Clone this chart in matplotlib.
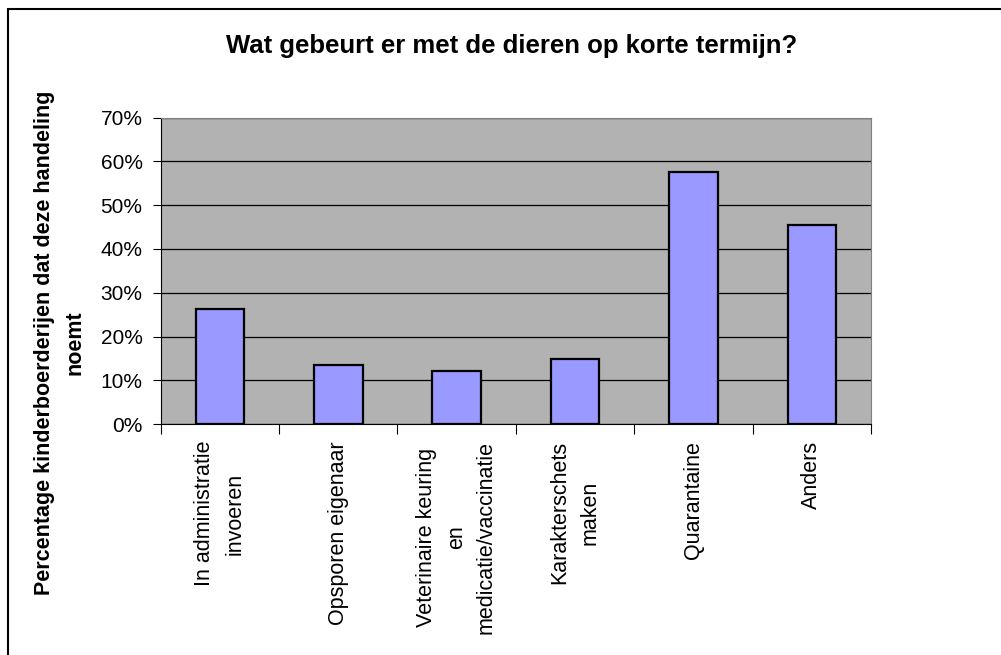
import matplotlib
matplotlib.use("Agg")
import matplotlib.pyplot as plt
import numpy as np
from matplotlib.patches import Rectangle

# data
categories = ["In administratie\ninvoeren", "Opsporen eigenaar",
              "Veterinaire keuring\nen\nmedicatie/vaccinatie",
              "Karakterschets\nmaken", "Quarantaine", "Anders"]
values = [0.264, 0.135, 0.121, 0.149, 0.576, 0.455]
yticks = [0.0, 0.1, 0.2, 0.3, 0.4, 0.5, 0.6, 0.7]
title = "Wat gebeurt er met de dieren op korte termijn?"
ylabel = "Percentage kinderboerderijen dat deze handeling\nnoemt"

plt.rcParams['font.family'] = ['Liberation Sans', 'DejaVu Sans']

fig = plt.figure(figsize=(10.01, 6.55), dpi=100)
fig.patch.set_facecolor("white")

# outer chart border (cut off right and bottom like the screenshot)
fig.patches.append(Rectangle((8 / 1001, -0.1), 1.2, 1 - 9 / 655 + 0.1,
                             transform=fig.transFigure, fill=False,
                             edgecolor="black", linewidth=1.5))

ax = fig.add_axes([160.7 / 1001, 1 - 424.3 / 655, (871 - 160.7) / 1001, (424.3 - 117.5) / 655])
ax.set_facecolor("#B2B2B2")

x = np.arange(len(categories))
ax.bar(x, values, width=0.41, color="#9999FF", edgecolor="black", linewidth=1.6, zorder=3)

ax.set_xlim(-0.5, len(categories) - 0.5)
ax.set_ylim(0, 0.7)
ax.set_yticks(yticks)
ax.set_yticklabels([f"{int(round(v * 100))}%" for v in yticks], fontsize=15)
ax.yaxis.grid(True, color="black", linewidth=0.9, zorder=1)
ax.set_axisbelow(True)

# category ticks on the boundaries, labels in the middle
ax.set_xticks(np.arange(len(categories) + 1) - 0.5)
ax.set_xticklabels([])
ax.set_xticks(x, minor=True)
ax.set_xticklabels(categories, minor=True, rotation=90, fontsize=15.5,
                   va="top", ha="center", linespacing=1.55)
ax.tick_params(axis="x", which="minor", length=0, pad=12)
ax.tick_params(axis="x", which="major", length=7, direction="out", color="black")
ax.tick_params(axis="y", length=6, direction="out", color="black", pad=7)

for side in ["top", "right"]:
    ax.spines[side].set_color("#808080")
for side in ["left", "bottom"]:
    ax.spines[side].set_color("black")

fig.text(512 / 1001, 1 - 46 / 655, title, ha="center", va="center",
         fontsize=18.5, fontweight="bold")
fig.text(60 / 1001, 1 - 343 / 655, ylabel, ha="center", va="center",
         rotation=90, fontsize=15.5, fontweight="bold", linespacing=1.6)

fig.savefig("out.png", dpi=100)
